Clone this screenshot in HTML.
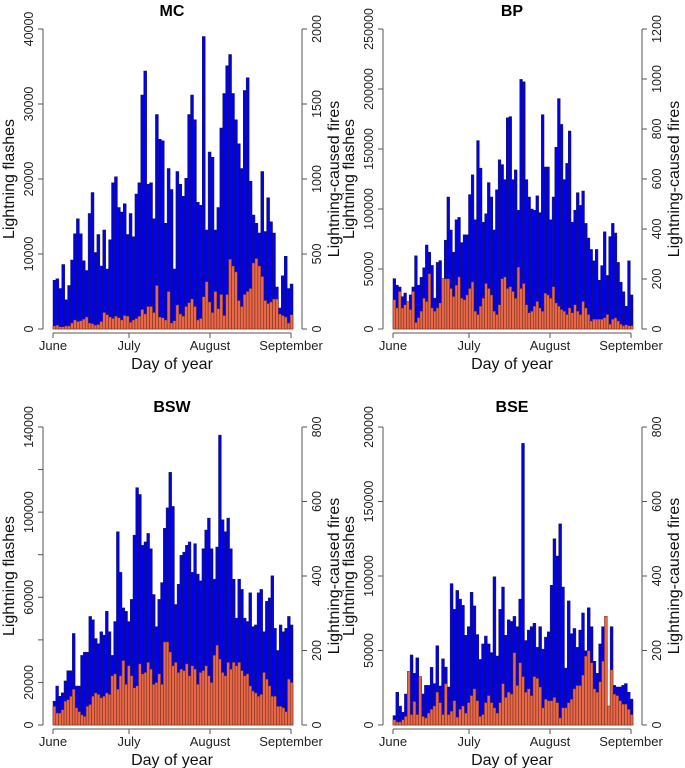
<!DOCTYPE html>
<html><head><meta charset="utf-8"><style>
body{margin:0;background:#fff}
svg{display:block;font-family:"Liberation Sans",Arial,sans-serif}
</style></head><body>
<svg id="chart" width="685" height="768" viewBox="0 0 685 768" xmlns="http://www.w3.org/2000/svg"></svg>
<script>
const panelNames = ["MC","BP","BSW","BSE"];
const monthLabels = ["June","July","August","September"];
const mcTicksL = [0,10000,20000,30000,40000];
const mcTicksR = [0,500,1000,1500,2000];
const bpTicksL = [0,50000,100000,150000,200000,250000];
const bpTicksR = [0,200,400,600,800,1000,1200];
const bswTicksL = [0,20000,40000,60000,80000,100000,120000,140000];
const bswLabelsL = ["0","20000","","60000","","100000","","140000"];
const bswTicksR = [0,200,400,600,800];
const bseTicksL = [0,50000,100000,150000,200000];
const bseTicksR = [0,200,400,600,800];
// Flashes in thousands
const mcFlashes = [6.5,6.7,5.4,8.6,3.9,5.8,9.2,12.7,14.7,12.7,9.1,7.8,15.4,18.2,10.2,12.6,8.4,13.2,8.0,11.9,19.5,20.3,16.2,15.6,16.7,12.6,15.4,12.3,18.0,19.5,31.2,34.4,19.3,19.5,14.7,28.6,25.3,25.1,14.1,21.4,18.6,8.0,21.0,19.3,17.7,20.1,28.6,31.2,27.9,16.9,16.5,39.0,13.2,23.6,22.9,13.2,16.2,26.8,31.4,35.1,36.6,31.4,27.9,24.7,21.4,31.8,33.5,19.7,15.2,14.1,12.8,21.0,13.0,17.5,14.3,12.8,5.6,2.8,7.1,9.7,5.4,6.0];
const mcFires = [20,25,15,15,20,20,40,60,50,55,65,80,40,35,25,30,50,110,95,80,70,85,75,60,90,85,45,60,70,85,130,100,150,150,110,290,80,75,60,250,40,55,160,100,85,150,175,200,150,60,70,215,315,180,110,250,135,230,90,230,465,420,380,190,150,230,250,270,440,470,420,350,190,170,180,200,200,100,90,80,40,95];
const bpFlashes = [42,36.5,35,27,30,21.6,28.4,35,61,36.5,43,51,70,64,53,25.7,55.5,57,42,74,110,82.5,64,91,93,72,78.5,78.5,112,128.5,91,157,134,89,96,122,110,82.5,116,141,137,124.5,176,177,124.5,132.6,99,208,206,124.5,110,100,99,111,97,178.6,135,135,91,110,151.5,192,170.5,124.5,138,165,89,99,113.6,103,115,88,75.8,66.3,56.8,66.3,40.6,52.8,81,44.6,77,88,80,55.5,39,31,19,56.8,28.4];
const bpFires = [117,84,150,84,97,110,78,150,26,45,71,123,110,221,84,71,84,104,201,201,201,162,130,175,208,123,117,136,162,188,71,58,91,123,182,162,136,71,58,97,201,208,162,169,150,123,247,162,182,97,65,71,91,110,84,71,143,136,123,169,104,91,78,71,58,84,65,97,71,58,110,84,58,32,39,39,39,39,45,58,19.5,39,45,32,19.5,13,17,13,13];
const bswFlashes = [11.2,18.3,13.5,15.1,20.7,25.5,25.5,43,18.3,18.3,32.7,34.2,34.2,51,49.4,40.6,38.2,43.8,42.2,53.4,43.8,32.7,48.6,90.8,71.7,55,53.4,48.6,59,89.2,111.5,108.3,84.4,86,90,82.8,61.3,46.2,59,66.9,92.4,102,118.7,102.7,56.6,66.1,79.7,81.2,84.4,86,71.7,85.2,70.9,67.7,82.8,91.6,97.2,82.8,68.5,83.6,136.2,96.4,90.8,97.2,82.8,68.5,50.2,68.5,63.7,50.2,48.6,62.1,46.2,47,62.1,63.7,43.8,58.1,59.7,70.1,45.4,35,47,43.8,45.4,51,47];
const bswFires = [50,32,32,41,64,68,77,96,46,36,27,23,50,55,77,86,82,73,77,86,82,132,137,96,132,173,109,159,132,100,105,164,137,141,168,150,109,114,137,109,223,223,196,159,168,141,150,146,164,132,159,150,109,141,146,159,132,114,187,214,177,141,132,168,150,168,159,168,146,132,137,105,91,86,77,82,141,123,105,77,77,50,50,46,36,123,114];
const bseFlashes = [6.3,22,12.7,8.6,20.8,34.7,47,34.7,45.1,32.4,20.8,26.6,26.6,38.7,27.8,53.2,26.2,44.4,38.9,25.5,94.9,77.6,90.3,84.5,80.3,60.2,66,89.1,79.9,60.7,44,54.4,59.7,54.4,48.6,99.5,46.3,77.6,92.6,60.2,70.6,69.5,72.9,66,84.5,189,56.7,63.7,66,68.3,52.1,66,50.9,59,62.5,93.8,125,113.4,135,92.6,38.2,83.3,61.3,64.8,52.1,63.7,75.2,49.8,78.7,66,42.8,34.7,54.4,66,55.6,6.9,66,26.6,25.5,25.5,26.6,27.8,22,17.4];
const bseFires = [14,8,8,14,23,144,28,63,28,130,23,19,32,42,51,88,60,28,111,28,37,65,21,42,51,32,60,79,97,65,23,28,60,79,60,46,32,60,111,74,88,83,194,106,167,130,88,97,79,130,125,102,46,69,65,65,74,60,19,46,46,60,69,97,106,106,134,185,199,167,97,88,116,171,292,51,148,83,79,65,56,56,42,28];

const NS="http://www.w3.org/2000/svg";
const svg=document.getElementById('chart');
function mk(tag,attrs,parent){const e=document.createElementNS(NS,tag);for(const k in attrs)e.setAttribute(k,attrs[k]);(parent||svg).appendChild(e);return e;}

const panels=[
 {name:panelNames[0],dx:0,dy:0,top:29,base:329,flashes:mcFlashes,fires:mcFires,tl:mcTicksL,ll:null,tr:mcTicksR,maxL:40000,maxR:2000},
 {name:panelNames[1],dx:340,dy:0,top:29,base:329,flashes:bpFlashes,fires:bpFires,tl:bpTicksL,ll:null,tr:bpTicksR,maxL:250000,maxR:1200},
 {name:panelNames[2],dx:0,dy:396,top:31,base:329,flashes:bswFlashes,fires:bswFires,tl:bswTicksL,ll:bswLabelsL,tr:bswTicksR,maxL:140000,maxR:800},
 {name:panelNames[3],dx:340,dy:396,top:31,base:329,flashes:bseFlashes,fires:bseFires,tl:bseTicksL,ll:null,tr:bseTicksR,maxL:200000,maxR:800}
];
const monthX=[53,129,210,291];

panels.forEach(p=>{
 const g=mk('g',{transform:`translate(${p.dx},${p.dy})`});
 
 
 const yL=v=>p.base-(v/p.maxL)*(p.base-p.top);
 const yR=v=>p.base-(v/p.maxR)*(p.base-p.top);
 const n=Math.min(p.flashes.length,p.fires.length);
 const x0=53,x1=293,bw=(x1-x0)/n;
 const xb=i=>x0+i*bw;
 for(let i=0;i<n;i++){
  const y=yL(p.flashes[i]*1000);
  const r=mk('rect',{x:xb(i),y:y,width:bw,height:p.base-y,fill:'#0000ee',stroke:'#1a1a40','stroke-width':0.5},g);
  
  
 }
 for(let i=0;i<n;i++){
  const y=yR(p.fires[i]);
  const r=mk('rect',{x:xb(i),y:y,width:bw,height:p.base-y,fill:'#e8694a',stroke:'#6b2a1a','stroke-width':0.5},g);
  
  
 }
 // title
 const t=mk('text',{x:172,y:16,'font-size':16,'font-weight':'bold','text-anchor':'middle'},g);t.textContent=p.name;
 
 
 // left axis
 const la=mk('line',{x1:43,x2:43,y1:yL(p.tl[0]),y2:yL(p.tl[p.tl.length-1]),stroke:'#555'},g);
 
 
 p.tl.forEach((v,i)=>{
  const y=yL(v);
  mk('line',{x1:38,x2:43,y1:y,y2:y,stroke:'#555'},g);
  const lbl=p.ll?p.ll[i]:String(v);
  if(lbl){const tx=mk('text',{x:0,y:0,'font-size':12.5,'text-anchor':'middle',fill:'#222',transform:`translate(33,${y}) rotate(-90)`},g);tx.textContent=lbl;
   
   }
 });
 const lt=mk('text',{x:0,y:0,'font-size':16,'text-anchor':'middle',fill:'#111',transform:`translate(14,${(p.top+p.base)/2}) rotate(-90)`},g);lt.textContent='Lightning flashes';
 
 
 // right axis
 const ra=mk('line',{x1:302,x2:302,y1:yR(p.tr[0]),y2:yR(p.tr[p.tr.length-1]),stroke:'#555'},g);
 
 
 p.tr.forEach(v=>{
  const y=yR(v);
  mk('line',{x1:302,x2:307,y1:y,y2:y,stroke:'#555'},g);
  const tx=mk('text',{x:0,y:0,'font-size':12.5,'text-anchor':'middle',fill:'#222',transform:`translate(321,${y}) rotate(-90)`},g);tx.textContent=String(v);
  
  
 });
 const rt=mk('text',{x:0,y:0,'font-size':16,'text-anchor':'middle',fill:'#111',transform:`translate(339,${(p.top+p.base)/2}) rotate(-90)`},g);rt.textContent='Lightning-caused fires';
 
 
 // x axis
 const xa=mk('line',{x1:monthX[0],x2:monthX[3],y1:333,y2:333,stroke:'#555'},g);
 
 
 monthLabels.forEach((m,i)=>{
  mk('line',{x1:monthX[i],x2:monthX[i],y1:333,y2:338,stroke:'#555'},g);
  const tx=mk('text',{x:monthX[i],y:350,'font-size':13,'text-anchor':'middle',fill:'#222'},g);tx.textContent=m;
  
  
 });
 const xt=mk('text',{x:172,y:369,'font-size':16,'text-anchor':'middle',fill:'#111'},g);xt.textContent='Day of year';
 
 
});
</script>
</body></html>
